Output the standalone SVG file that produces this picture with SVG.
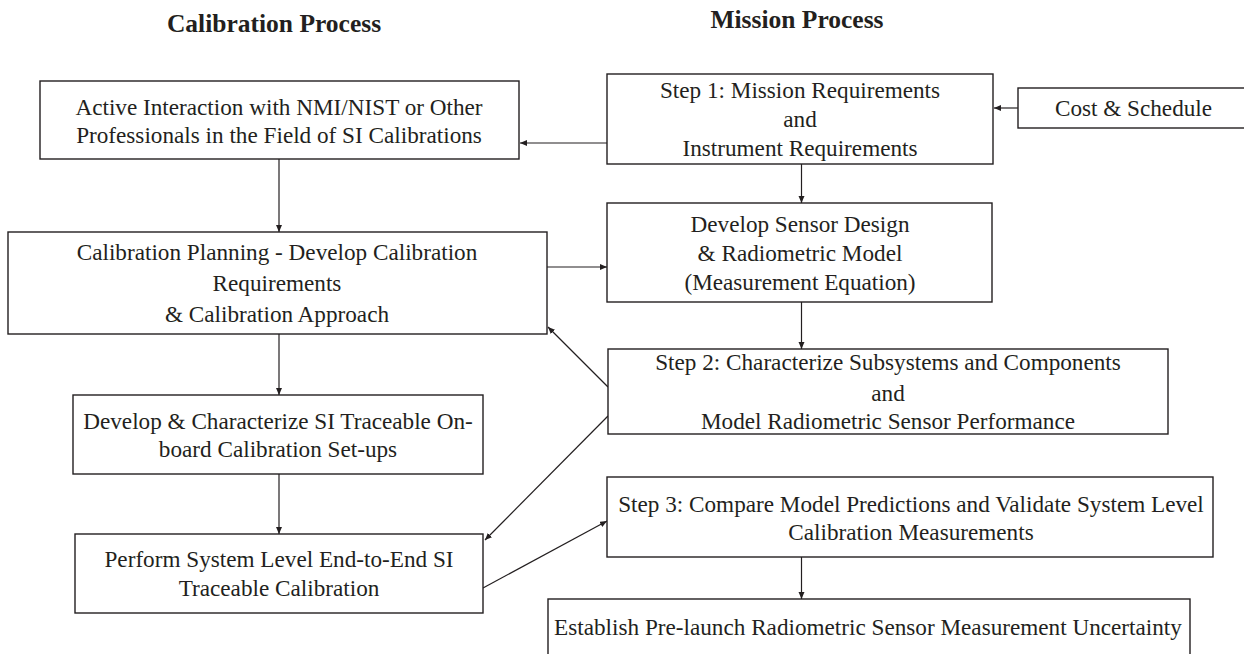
<svg xmlns="http://www.w3.org/2000/svg" width="1244" height="654" viewBox="0 0 1244 654">
<style>
.box{fill:#fff;stroke:#231f20;stroke-width:1.4}
.t{font-family:"Liberation Serif","Times New Roman",serif;font-size:23.2px;fill:#231f20;text-anchor:middle}
.h{font-family:"Liberation Serif","Times New Roman",serif;font-size:25.5px;font-weight:bold;fill:#231f20;text-anchor:middle}
.c{fill:none;stroke:#231f20;stroke-width:1.2}
</style>
<defs>
<marker id="ah" markerUnits="userSpaceOnUse" markerWidth="8" markerHeight="8" refX="7" refY="3" orient="auto">
<path d="M0,0 L7,3 L0,6 Z" fill="#231f20"/>
</marker>
</defs>
<rect width="1244" height="654" fill="#fff"/>
<text class="h" x="274" y="32">Calibration Process</text>
<text class="h" x="797" y="28">Mission Process</text>

<g id="connectors">
<line class="c" x1="1018" y1="108" x2="994" y2="108" marker-end="url(#ah)"/>
<line class="c" x1="607" y1="143" x2="520" y2="143" marker-end="url(#ah)"/>
<line class="c" x1="801.5" y1="164" x2="801.5" y2="203" marker-end="url(#ah)"/>
<line class="c" x1="279" y1="159" x2="279" y2="232" marker-end="url(#ah)"/>
<line class="c" x1="547" y1="267" x2="607" y2="267" marker-end="url(#ah)"/>
<line class="c" x1="801.5" y1="302" x2="801.5" y2="349" marker-end="url(#ah)"/>
<line class="c" x1="608" y1="387" x2="548" y2="327" marker-end="url(#ah)"/>
<line class="c" x1="608" y1="416" x2="485" y2="540" marker-end="url(#ah)"/>
<line class="c" x1="279" y1="334" x2="279" y2="395" marker-end="url(#ah)"/>
<line class="c" x1="279" y1="474" x2="279" y2="534" marker-end="url(#ah)"/>
<line class="c" x1="483" y1="588" x2="607" y2="521" marker-end="url(#ah)"/>
<line class="c" x1="801.5" y1="557" x2="801.5" y2="599" marker-end="url(#ah)"/>
</g>

<g id="node-active">
<rect class="box" x="40" y="81" width="479" height="78"/>
<text class="t" x="279" y="115">Active Interaction with NMI/NIST or Other</text>
<text class="t" x="279" y="143">Professionals in the Field of SI Calibrations</text>
</g>
<g id="node-step1">
<rect class="box" x="607" y="74" width="386" height="90"/>
<text class="t" x="800" y="98">Step 1: Mission Requirements</text>
<text class="t" x="800" y="127">and</text>
<text class="t" x="800" y="156">Instrument Requirements</text>
</g>
<g id="node-cost">
<rect class="box" x="1018" y="88" width="240" height="40"/>
<text class="t" x="1133.5" y="116">Cost &amp; Schedule</text>
</g>
<g id="node-sensor">
<rect class="box" x="607" y="203" width="385" height="99"/>
<text class="t" x="800" y="232">Develop Sensor Design</text>
<text class="t" x="800" y="261">&amp; Radiometric Model</text>
<text class="t" x="800" y="290">(Measurement Equation)</text>
</g>
<g id="node-planning">
<rect class="box" x="8" y="232" width="539" height="102"/>
<text class="t" x="277" y="260">Calibration Planning - Develop Calibration</text>
<text class="t" x="277" y="291">Requirements</text>
<text class="t" x="277" y="322">&amp; Calibration Approach</text>
</g>
<g id="node-step2">
<rect class="box" x="608" y="349" width="560" height="85"/>
<text class="t" x="888" y="370">Step 2: Characterize Subsystems and Components</text>
<text class="t" x="888" y="401">and</text>
<text class="t" x="888" y="429">Model Radiometric Sensor Performance</text>
</g>
<g id="node-onboard">
<rect class="box" x="73" y="395" width="410" height="79"/>
<text class="t" x="278" y="429">Develop &amp; Characterize SI Traceable On-</text>
<text class="t" x="278" y="457">board Calibration Set-ups</text>
</g>
<g id="node-perform">
<rect class="box" x="75" y="534" width="408" height="79"/>
<text class="t" x="279" y="567">Perform System Level End-to-End SI</text>
<text class="t" x="279" y="596">Traceable Calibration</text>
</g>
<g id="node-step3">
<rect class="box" x="607" y="477" width="606" height="80"/>
<text class="t" x="911" y="512">Step 3: Compare Model Predictions and Validate System Level</text>
<text class="t" x="911" y="540">Calibration Measurements</text>
</g>
<g id="node-establish">
<rect class="box" x="548" y="599" width="642" height="62"/>
<text class="t" x="868" y="635">Establish Pre-launch Radiometric Sensor Measurement Uncertainty</text>
</g>
</svg>
